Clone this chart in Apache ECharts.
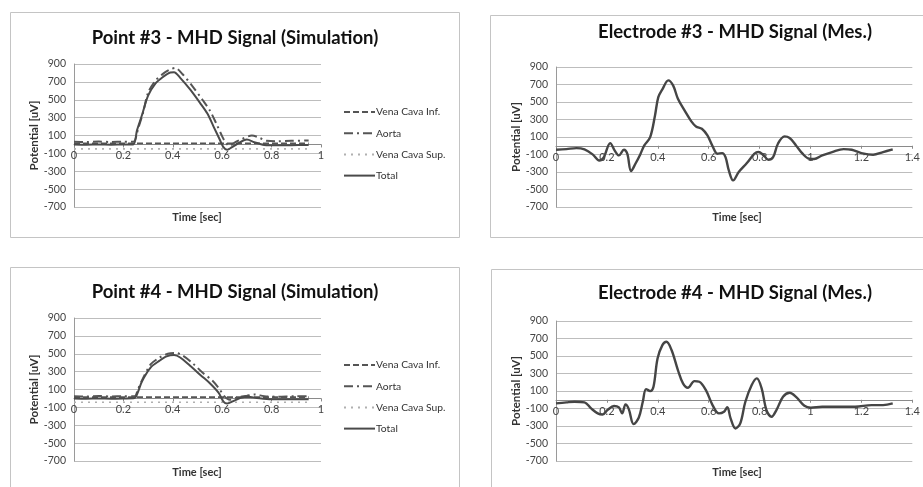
<!DOCTYPE html>
<html>
<head>
<meta charset="utf-8">
<script src="https://cdn.jsdelivr.net/npm/echarts@6/dist/echarts.min.js"></script>
<style>
html,body{margin:0;padding:0;background:#fff;}
#c{width:923px;height:487px;}
</style>
</head>
<body>
<div id="c"></div>
<script>
// ---------- DATA ----------
const titles = [
  'Point #3 - MHD Signal (Simulation)',
  'Electrode #3 - MHD Signal (Mes.)',
  'Point #4 - MHD Signal (Simulation)',
  'Electrode #4 - MHD Signal (Mes.)'
];
const legendNames = ['Vena Cava Inf.', 'Aorta', 'Vena Cava Sup.', 'Total'];
const yTicks = [-700, -500, -300, -100, 100, 300, 500, 700, 900];
const xAxisName = 'Time [sec]';
const yAxisName = 'Potential [uV]';

// Point #3 (simulation)
const p3TotalT = [0,0.05,0.1,0.15,0.2,0.24,0.255,0.275,0.3,0.33,0.36,0.39,0.405,0.43,0.47,0.51,0.54,0.565,0.59,0.605,0.62,0.64,0.66,0.7,0.73,0.77,0.82,0.88,0.95];
const p3TotalV = [0,-3,0,-3,0,0,157,326,545,682,755,805,808,745,615,465,345,200,55,-30,-60,-30,5,55,25,-5,-10,-8,-5];
const p3AortaT = [0,0.05,0.1,0.15,0.2,0.24,0.26,0.28,0.3,0.33,0.36,0.39,0.41,0.44,0.48,0.52,0.55,0.575,0.6,0.615,0.63,0.65,0.68,0.72,0.75,0.78,0.82,0.88,0.95];
const p3AortaV = [30,28,32,28,30,30,180,360,580,715,790,840,855,785,650,500,380,240,90,15,-15,20,60,100,75,40,35,40,45];
const p3InfT = [0,0.25,0.5,0.75,0.95];
const p3InfV = [12,12,12,12,12];
const p3SupT = [0,0.25,0.5,0.75,0.95];
const p3SupV = [-50,-50,-50,-50,-50];

// Point #4 (simulation)
const p4TotalT = [0,0.05,0.1,0.15,0.2,0.245,0.26,0.275,0.31,0.345,0.375,0.405,0.43,0.47,0.515,0.55,0.585,0.605,0.62,0.645,0.675,0.705,0.74,0.8,0.88,0.95];
const p4TotalV = [0,-3,0,-3,0,5,80,190,345,420,470,485,458,365,255,170,65,-35,-58,-30,8,20,5,-10,-10,-10];
const p4AortaT = [0,0.05,0.1,0.15,0.2,0.245,0.26,0.28,0.31,0.345,0.38,0.41,0.44,0.48,0.52,0.56,0.59,0.61,0.63,0.66,0.7,0.73,0.77,0.82,0.9,0.95];
const p4AortaV = [25,22,27,22,25,25,110,230,380,455,500,510,480,395,290,200,100,20,-15,10,30,45,25,20,25,25];
const p4InfT = [0,0.25,0.5,0.75,0.95];
const p4InfV = [15,15,15,15,15];
const p4SupT = [0,0.25,0.5,0.75,0.95];
const p4SupV = [-42,-42,-42,-42,-42];

// Electrode #3 (measured)
const e3T = [0,0.041,0.08,0.112,0.144,0.17,0.187,0.213,0.232,0.247,0.267,0.28,0.295,0.312,0.331,0.347,0.37,0.389,0.402,0.419,0.441,0.46,0.479,0.505,0.531,0.55,0.573,0.595,0.615,0.634,0.653,0.666,0.679,0.696,0.718,0.75,0.78,0.795,0.814,0.834,0.853,0.872,0.898,0.918,0.943,0.969,0.995,1.014,1.046,1.085,1.13,1.162,1.2,1.246,1.285,1.323];
const e3V = [-46,-38,-27,-42,-99,-168,-137,30,-61,-110,-46,-91,-290,-206,-99,4,99,347,556,651,747,690,537,404,282,221,194,118,-4,-91,-84,-130,-282,-396,-300,-198,-91,-72,-103,-160,-130,23,107,88,4,-91,-149,-152,-110,-72,-38,-46,-84,-103,-72,-42];

// Electrode #4 (measured)
const e4T = [0,0.041,0.073,0.112,0.138,0.164,0.183,0.202,0.228,0.247,0.26,0.273,0.286,0.305,0.325,0.341,0.354,0.37,0.383,0.399,0.418,0.434,0.454,0.479,0.499,0.518,0.544,0.563,0.589,0.615,0.64,0.66,0.673,0.686,0.705,0.724,0.744,0.769,0.789,0.808,0.827,0.847,0.866,0.892,0.918,0.943,0.976,1.001,1.046,1.111,1.175,1.24,1.285,1.323];
const e4V = [-42,-30,-23,-30,-99,-156,-168,-118,-72,-88,-156,-53,-107,-278,-206,-23,122,99,149,472,625,663,568,339,187,137,213,206,110,-61,-156,-137,-84,-213,-328,-270,-23,168,244,130,-118,-194,-118,34,80,34,-69,-91,-80,-80,-80,-61,-61,-42];

// ---------- BUILD ----------
const FONT = 'Lato, "Open Sans", sans-serif';
function pairs(t, v) { return t.map((x, i) => [x, v[i]]); }

const grids = [
  {left: 74, top: 64, width: 247, height: 143},
  {left: 556, top: 67, width: 361, height: 140},
  {left: 74, top: 318, width: 247, height: 143},
  {left: 556, top: 321, width: 361, height: 140}
];
const xMax = [1, 1.4, 1, 1.4];
const yMin = yTicks[0], yMax = yTicks[yTicks.length - 1];

const xAxes = grids.map((g, i) => ({
  type: 'value', gridIndex: i, min: 0, max: xMax[i], interval: 0.2,
  position: 'bottom',
  // put the axis (line + labels) on the zero line, as in the original
  offset: -g.height * (0 - yMin) / (yMax - yMin),
  axisLine: {show: true, onZero: false, lineStyle: {color: '#8a8a8a', width: 1}},
  axisTick: {show: true, length: 3, lineStyle: {color: '#8a8a8a'}},
  splitLine: {show: false},
  axisLabel: {color: '#444', fontSize: 11, fontFamily: FONT, margin: 6,
    formatter: v => String(Math.round(v * 10) / 10)}
}));
const yAxes = grids.map((g, i) => ({
  type: 'value', gridIndex: i, min: yMin, max: yMax, interval: 200,
  name: yAxisName, nameLocation: 'middle', nameGap: 32, nameRotate: 90,
  nameTextStyle: {color: '#333', fontSize: 11.5, fontWeight: 'bold', fontFamily: FONT},
  axisLine: {show: true, lineStyle: {color: '#9a9a9a', width: 1}},
  axisTick: {show: false},
  splitLine: {show: true, lineStyle: {color: '#bdbdbd', width: 1}},
  axisLabel: {color: '#444', fontSize: 10.5, fontFamily: FONT, margin: 8}
}));

const dashDot = [9, 4, 2, 4];
function simSeries(gi, inf, aorta, sup, total) {
  return [
    {name: legendNames[0], type: 'line', xAxisIndex: gi, yAxisIndex: gi, data: inf, showSymbol: false, symbol: 'none',
      lineStyle: {color: '#555', width: 1.6, type: [6, 3]}, itemStyle: {color: '#555'}},
    {name: legendNames[1], type: 'line', xAxisIndex: gi, yAxisIndex: gi, data: aorta, showSymbol: false, symbol: 'none', smooth: 0.3,
      lineStyle: {color: '#555', width: 2, type: dashDot}, itemStyle: {color: '#555'}},
    {name: legendNames[2], type: 'line', xAxisIndex: gi, yAxisIndex: gi, data: sup, showSymbol: false, symbol: 'none',
      lineStyle: {color: '#b0b0b0', width: 1.6, type: [2, 5]}, itemStyle: {color: '#b0b0b0'}},
    {name: legendNames[3], type: 'line', xAxisIndex: gi, yAxisIndex: gi, data: total, showSymbol: false, symbol: 'none', smooth: 0.3,
      lineStyle: {color: '#4a4a4a', width: 2}, itemStyle: {color: '#4a4a4a'}}
  ];
}
const series = [].concat(
  simSeries(0, pairs(p3InfT, p3InfV), pairs(p3AortaT, p3AortaV), pairs(p3SupT, p3SupV), pairs(p3TotalT, p3TotalV)),
  [{name: 'Electrode #3', type: 'line', xAxisIndex: 1, yAxisIndex: 1, data: pairs(e3T, e3V), showSymbol: false, symbol: 'none', smooth: 0.35,
    lineStyle: {color: '#454545', width: 2.4}}],
  simSeries(2, pairs(p4InfT, p4InfV), pairs(p4AortaT, p4AortaV), pairs(p4SupT, p4SupV), pairs(p4TotalT, p4TotalV)),
  [{name: 'Electrode #4', type: 'line', xAxisIndex: 3, yAxisIndex: 3, data: pairs(e4T, e4V), showSymbol: false, symbol: 'none', smooth: 0.35,
    lineStyle: {color: '#454545', width: 2.4}}]
);

function legendAt(top) {
  return {
    data: legendNames, orient: 'vertical', left: 343, top: top,
    itemWidth: 31, itemHeight: 12, itemGap: 11.2, padding: 0,
    selectedMode: false,
    itemStyle: {color: 'rgba(0,0,0,0)', borderColor: 'rgba(0,0,0,0)', borderWidth: 0, opacity: 0},
    textStyle: {color: '#333', fontSize: 10.3, fontFamily: FONT, padding: [0, 0, 0, -4]}
  };
}

const titlePos = [[235, 38], [735, 32], [235, 292], [735, 293]];
const xNamePos = [[197, 217], [737, 217], [197, 472], [737, 472]];
const borders = [
  {x: 10.5, y: 12.5, w: 449, h: 225},
  {x: 490.5, y: 15.5, w: 450, h: 222},
  {x: 10.5, y: 267.5, w: 449, h: 240},
  {x: 491.5, y: 269.5, w: 450, h: 240}
];
const graphic = [];
borders.forEach(b => graphic.push({type: 'rect', shape: {x: b.x, y: b.y, width: b.w, height: b.h}, silent: true, z: -10,
  style: {fill: 'none', stroke: '#c4c4c4', lineWidth: 1}}));
titles.forEach((t, i) => graphic.push({type: 'text', x: titlePos[i][0], y: titlePos[i][1], silent: true,
  style: {text: t, fill: '#111', font: 'bold 18.5px ' + FONT, textAlign: 'center', textVerticalAlign: 'middle'}}));
xNamePos.forEach(p => graphic.push({type: 'text', x: p[0], y: p[1], silent: true,
  style: {text: xAxisName, fill: '#333', font: 'bold 11px ' + FONT, textAlign: 'center', textVerticalAlign: 'middle'}}));

const chart = echarts.init(document.getElementById('c'));
chart.setOption({
  animation: false,
  backgroundColor: '#fff',
  grid: grids,
  xAxis: xAxes,
  yAxis: yAxes,
  legend: [legendAt(107), legendAt(360)],
  series: series,
  graphic: graphic
});
</script>
</body>
</html>
